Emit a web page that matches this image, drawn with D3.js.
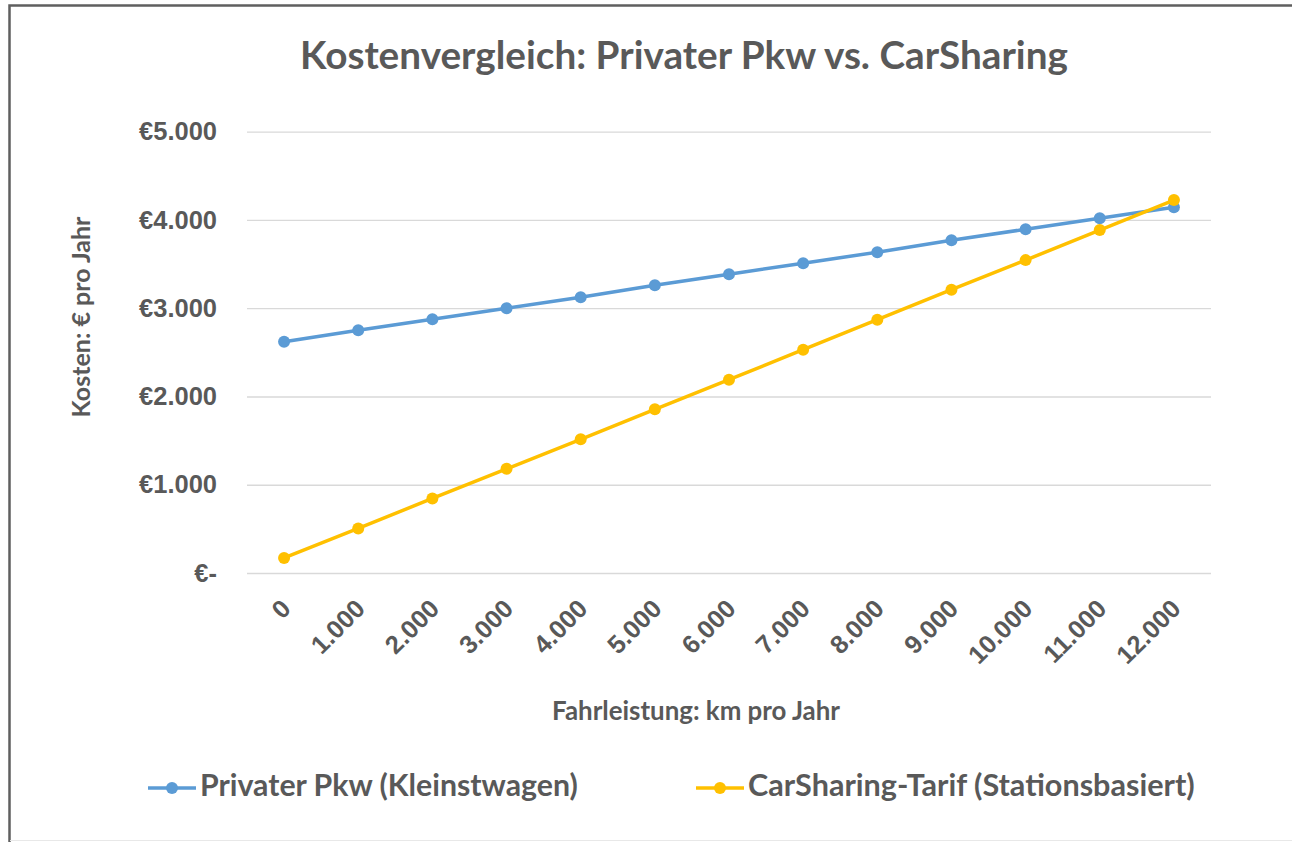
<!DOCTYPE html>
<html>
<head>
<meta charset="utf-8">
<script src="https://cdn.jsdelivr.net/npm/d3@7"></script>
<style>
  html, body { margin: 0; padding: 0; background: #fff; }
  svg { display: block; font-family: Lato, "Open Sans", sans-serif; font-weight: bold; }
</style>
</head>
<body>
<div id="chart"></div>
<script>
// Kostenvergleich - Privater Pkw vs. CarSharing
const categories = ['0', '1.000', '2.000', '3.000', '4.000', '5.000', '6.000',
    '7.000', '8.000', '9.000', '10.000', '11.000', '12.000'];
const privatPkw = [2620, 2750, 2875, 3000, 3125, 3260, 3385, 3510, 3635, 3770, 3895, 4020, 4145];
const carSharing = [170, 505, 845, 1180, 1515, 1855, 2190, 2530, 2870, 3210, 3545, 3885, 4225];
const yTicks = [0, 1000, 2000, 3000, 4000, 5000];
const yTickLabels = ['€-', '€1.000', '€2.000', '€3.000', '€4.000', '€5.000'];
const seriesNames = ['Privater Pkw (Kleinstwagen)', 'CarSharing-Tarif (Stationsbasiert)'];
const seriesColors = ['#5B9BD5', '#FFC000'];

const width = 1292;
const height = 842;
const textColor = '#595959';
const plot = { left: 247, right: 1211, top: 131.7, bottom: 573 };

const svg = d3.select('#chart')
    .append('svg')
    .attr('width', width)
    .attr('height', height);

// scale the font so the text gets a given width
function fitWidth(sel, target) {
    const w = sel.node().getComputedTextLength();
    const fs = parseFloat(sel.attr('font-size'));
    const size = fs * target / w;
    sel.attr('font-size', size);
    return size;
}

// frame
svg.append('rect')
    .attr('x', 9.5).attr('y', 5.5)
    .attr('width', width + 20).attr('height', height + 20)
    .attr('fill', 'none')
    .attr('stroke', '#5f5f5f')
    .attr('stroke-width', 2.5);
svg.append('line')
    .attr('x1', 10).attr('x2', width)
    .attr('y1', 840.5).attr('y2', 840.5)
    .attr('stroke', '#e8e8e8');

const x = d3.scaleBand()
    .domain(categories)
    .range([plot.left, plot.right])
    .padding(0);

const y = d3.scaleLinear()
    .domain([0, 5000])
    .range([plot.bottom, plot.top]);

// gridlines
const grid = svg.append('g')
    .attr('transform', `translate(${plot.left},0)`)
    .call(d3.axisLeft(y).tickValues(yTicks).tickSize(-(plot.right - plot.left)).tickFormat(''));
grid.select('.domain').remove();
grid.selectAll('line').attr('stroke', '#d9d9d9').attr('stroke-width', 1.3);

// measure tick font
const probe = svg.append('text').attr('font-size', 20).text('€5.000');
const tickSize = fitWidth(probe, 80);
probe.remove();

// y axis labels
const yAxis = svg.append('g')
    .attr('transform', 'translate(217,0)')
    .call(d3.axisLeft(y).tickValues(yTicks).tickSize(0).tickPadding(0)
        .tickFormat(d => yTickLabels[yTicks.indexOf(d)]));
yAxis.select('.domain').remove();
yAxis.selectAll('text')
    .attr('font-size', tickSize)
    .attr('font-family', null)
    .attr('fill', textColor);

// x axis labels
const xAxis = svg.append('g')
    .attr('transform', `translate(0,${plot.bottom})`)
    .call(d3.axisBottom(x).tickSize(0));
xAxis.select('.domain').remove();
xAxis.selectAll('text')
    .attr('font-size', tickSize)
    .attr('font-family', null)
    .attr('fill', textColor)
    .attr('text-anchor', 'end')
    .attr('y', 0)
    .attr('dy', '0.35em')
    .attr('transform', 'translate(2,31) rotate(-45)');

// lines and markers
const line = d3.line()
    .x((d, i) => x(categories[i]) + x.bandwidth() / 2)
    .y(d => y(d));

[privatPkw, carSharing].forEach((values, s) => {
    svg.append('path')
        .datum(values)
        .attr('fill', 'none')
        .attr('stroke', seriesColors[s])
        .attr('stroke-width', 3.5)
        .attr('stroke-linejoin', 'round')
        .attr('d', line);
    svg.append('g')
        .selectAll('circle')
        .data(values)
        .join('circle')
        .attr('cx', (d, i) => x(categories[i]) + x.bandwidth() / 2)
        .attr('cy', d => y(d))
        .attr('r', 6)
        .attr('fill', seriesColors[s]);
});

// title
const title = svg.append('text')
    .attr('x', 684).attr('y', 69)
    .attr('text-anchor', 'middle')
    .attr('font-size', 30)
    .attr('fill', textColor)
    .text('Kostenvergleich: Privater Pkw vs. CarSharing');
fitWidth(title, 768);

// axis titles
const xTitle = svg.append('text')
    .attr('x', 696).attr('y', 720)
    .attr('text-anchor', 'middle')
    .attr('font-size', 20)
    .attr('fill', textColor)
    .text('Fahrleistung: km pro Jahr');
fitWidth(xTitle, 288);

const yTitle = svg.append('text')
    .attr('transform', 'translate(90,317) rotate(-90)')
    .attr('text-anchor', 'middle')
    .attr('font-size', 20)
    .attr('fill', textColor)
    .text('Kosten: € pro Jahr');
fitWidth(yTitle, 201);

// legend
const legendPos = [{ x: 148, textX: 200, w: 378 }, { x: 696, textX: 748, w: 447 }];
seriesNames.forEach((name, s) => {
    const p = legendPos[s];
    const g = svg.append('g');
    g.append('line')
        .attr('x1', p.x).attr('x2', p.x + 48)
        .attr('y1', 788).attr('y2', 788)
        .attr('stroke', seriesColors[s])
        .attr('stroke-width', 3.5);
    g.append('circle')
        .attr('cx', p.x + 24).attr('cy', 788)
        .attr('r', 6)
        .attr('fill', seriesColors[s]);
    const t = g.append('text')
        .attr('x', p.textX).attr('y', 796)
        .attr('font-size', 22)
        .attr('fill', textColor)
        .text(name);
    fitWidth(t, p.w);
});
</script>
</body>
</html>
